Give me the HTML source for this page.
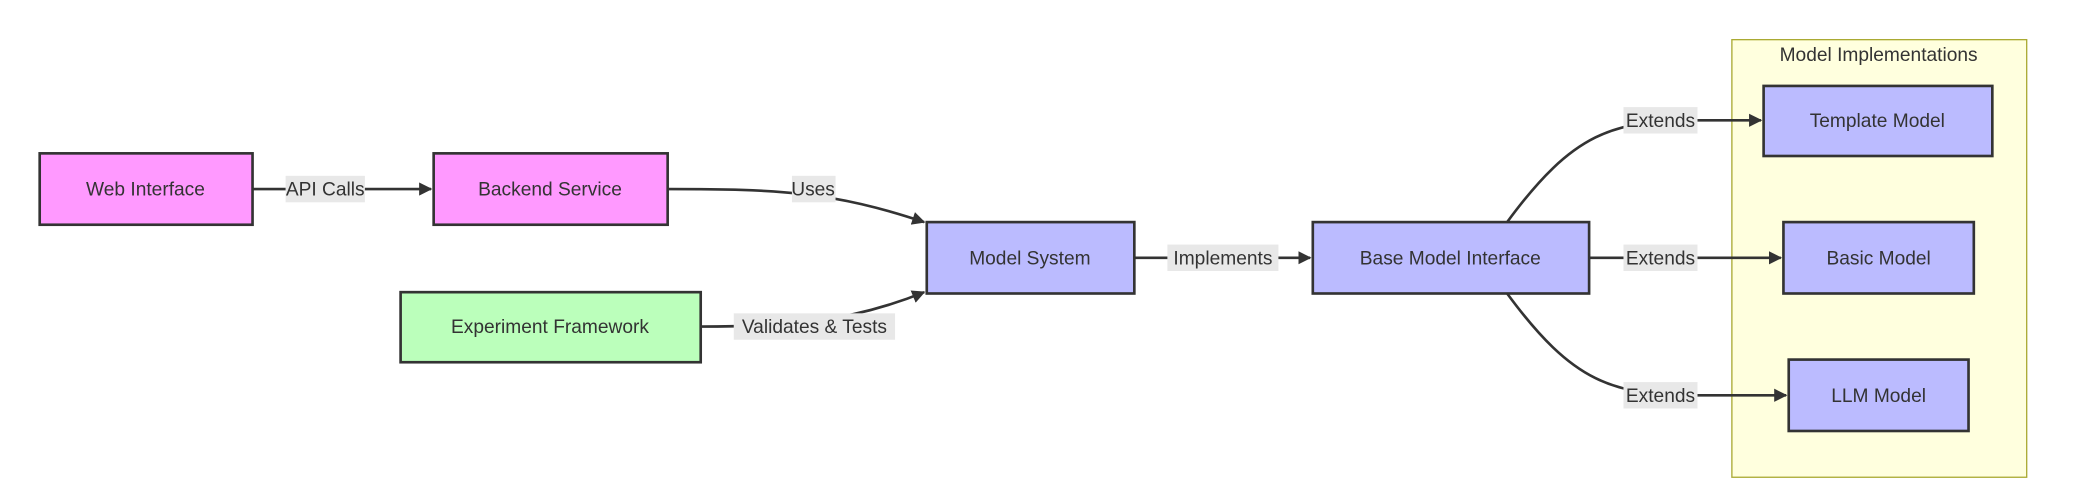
<!DOCTYPE html>
<html><head><meta charset="utf-8"><style>
html,body{margin:0;padding:0;background:#fff;width:2073px;height:491px;overflow:hidden}
text{font-family:"Liberation Sans","DejaVu Sans",sans-serif;fill:#333;font-size:14.5px}
</style></head><body>
<svg width="2073" height="491" viewBox="0 0 1568 371.4" xmlns="http://www.w3.org/2000/svg">
<defs><marker id="a" viewBox="0 0 10 10" refX="9" refY="5" markerWidth="5" markerHeight="5" orient="auto"><path d="M0,0L10,5L0,10z" fill="#333"/></marker></defs>
<rect x="1310" y="30" width="223" height="331" fill="#ffffde" stroke="#aaaa33" stroke-width="1"/>
<text x="1421" y="46" text-anchor="middle">Model Implementations</text>
<g fill="none" stroke="#333" stroke-width="2">
<path d="M191,143H326" marker-end="url(#a)"/>
<path d="M505,143C590,143 630,145 699,168" marker-end="url(#a)"/>
<path d="M530,247C590,247 640,245 699,221" marker-end="url(#a)"/>
<path d="M858,195H991" marker-end="url(#a)"/>
<path d="M1140,168C1190,100 1220,91 1284,91H1332" marker-end="url(#a)"/>
<path d="M1202,195H1347" marker-end="url(#a)"/>
<path d="M1140,222C1190,290 1220,299 1284,299H1351" marker-end="url(#a)"/>
</g>
<g fill="#e8e8e8">
<rect x="216" y="133" width="60" height="20"/><rect x="599" y="133" width="33" height="20"/>
<rect x="555" y="237" width="122" height="20"/><rect x="883" y="185" width="84" height="20"/>
<rect x="1228" y="81" width="56" height="20"/><rect x="1228" y="185" width="56" height="20"/>
<rect x="1228" y="289" width="56" height="20"/>
</g>
<g text-anchor="middle">
<text x="246" y="148">API Calls</text><text x="615" y="148">Uses</text>
<text x="616" y="252">Validates &amp; Tests</text><text x="925" y="200">Implements</text>
<text x="1256" y="96">Extends</text><text x="1256" y="200">Extends</text><text x="1256" y="304">Extends</text>
</g>
<g stroke="#333" stroke-width="2">
<rect x="30" y="116" width="161" height="54" fill="#ff99ff"/>
<rect x="328" y="116" width="177" height="54" fill="#ff99ff"/>
<rect x="303" y="221" width="227" height="53" fill="#bbffbb"/>
<rect x="701" y="168" width="157" height="54" fill="#bbbbff"/>
<rect x="993" y="168" width="209" height="54" fill="#bbbbff"/>
<rect x="1334" y="65" width="173" height="53" fill="#bbbbff"/>
<rect x="1349" y="168" width="144" height="54" fill="#bbbbff"/>
<rect x="1353" y="272" width="136" height="54" fill="#bbbbff"/>
</g>
<g text-anchor="middle">
<text x="110" y="148">Web Interface</text><text x="416" y="148">Backend Service</text>
<text x="416" y="252">Experiment Framework</text><text x="779" y="200">Model System</text>
<text x="1097" y="200">Base Model Interface</text><text x="1420" y="96">Template Model</text>
<text x="1421" y="200">Basic Model</text><text x="1421" y="304">LLM Model</text>
</g>
</svg>
</body></html>
